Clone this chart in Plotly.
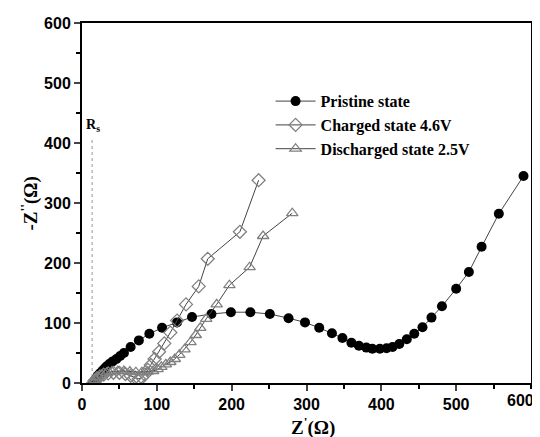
import plotly.graph_objects as go

# Pristine state (filled circles)
pristine_x = [15, 17, 19, 21, 24, 27, 30, 33, 37, 41, 46, 51, 56, 65, 76, 90, 107, 127, 147, 173,
              199, 225, 251, 276, 298, 317, 334, 348, 360, 370, 380, 388, 398, 407, 415, 424, 434,
              444, 455, 467, 481, 500, 517, 534, 557, 590]
pristine_y = [0, 4, 8, 12, 16, 20, 24, 28, 32, 36, 40, 45, 50, 60, 71, 82, 92, 101, 110, 115,
              118, 118, 115, 108, 101, 92, 83, 75, 67, 62, 59, 57, 57, 58, 60, 65, 73,
              82, 93, 109, 128, 157, 185, 227, 282, 345]

# Charged state 4.6V (open diamonds)
charged_x = [15, 17, 20, 24, 29, 35, 42, 50, 58, 65, 71, 76, 80, 84, 88, 92, 97, 103, 110, 118,
             127, 139, 156, 168, 211, 236]
charged_y = [0, 4, 8, 11, 14, 16, 17, 17, 15, 12, 9, 7, 9, 14, 22, 30, 40, 52, 66, 84,
             104, 131, 161, 207, 252, 338]

# Discharged state 2.5V (open triangles)
discharged_x = [15, 18, 22, 27, 33, 40, 48, 56, 64, 72, 80, 88, 95, 101, 106, 112, 118, 124, 130,
                137, 145, 152, 158, 166, 180, 197, 224, 242, 281]
discharged_y = [0, 5, 10, 14, 17, 19, 20, 20, 19, 18, 18, 19, 20, 23, 27, 31, 35, 40, 47,
                56, 68, 80, 92, 107, 131, 163, 193, 245, 283]

series_names = ["Pristine state", "Charged state 4.6V", "Discharged state 2.5V"]
rs_value = 13.5
rs_top = 405

x_ticks = [0, 100, 200, 300, 400, 500, 600]
x_ticklabels = ["0", "100", "200", "300", "400", "500", "600"]
y_ticks = [0, 100, 200, 300, 400, 500, 600]

fig = go.Figure()
fig.add_trace(go.Scatter(
    x=pristine_x, y=pristine_y, mode="lines+markers", name=series_names[0],
    line=dict(color="#444444", width=1),
    marker=dict(symbol="circle", size=10, color="black", line=dict(width=0))))
fig.add_trace(go.Scatter(
    x=charged_x, y=charged_y, mode="lines+markers", name=series_names[1],
    line=dict(color="#444444", width=1),
    marker=dict(symbol="diamond-open", size=10, color="#808080", line=dict(width=1.3))))
fig.add_trace(go.Scatter(
    x=discharged_x, y=discharged_y, mode="lines+markers", name=series_names[2],
    line=dict(color="#444444", width=1),
    marker=dict(symbol="triangle-up-open", size=10, color="#808080", line=dict(width=1.3))))

fig.add_shape(type="line", x0=rs_value, x1=rs_value, y0=0, y1=rs_top,
              line=dict(color="#999999", width=1, dash="dot"), layer="below")
fig.add_annotation(x=rs_value, y=rs_top + 6, text="R<sub>s</sub>", showarrow=False,
                   xanchor="center", yanchor="bottom", xshift=1,
                   font=dict(family="Liberation Serif", size=14, color="black", weight="bold"))

tickfont = dict(family="Liberation Sans", size=16, color="black", weight="bold")
# the last x label sits at the page edge, where plotly would hide a tick label,
# so it is drawn as an annotation at the same data position, kept inside the page
fig.update_xaxes(range=[0, 600], tickvals=x_ticks[:-1], ticktext=x_ticklabels[:-1],
                 ticks="outside", ticklen=6, tickwidth=2,
                 showline=True, linewidth=2, linecolor="black", mirror=True,
                 showgrid=False, zeroline=False, tickfont=tickfont,
                 minor=dict(dtick=50, ticks="outside", ticklen=4, tickwidth=2, tickcolor="black"))
fig.add_annotation(x=x_ticks[-1], xref="x", y=0, yref="paper", text=x_ticklabels[-1],
                   showarrow=False, xanchor="right", yanchor="top", yshift=-7, xshift=5,
                   font=tickfont)
fig.update_yaxes(range=[0, 600], tickvals=y_ticks, ticks="outside", ticklen=6, tickwidth=2,
                 showline=True, linewidth=2, linecolor="black", mirror=True,
                 showgrid=False, zeroline=False, tickfont=tickfont,
                 minor=dict(dtick=50, ticks="outside", ticklen=4, tickwidth=2, tickcolor="black"))

titlefont = dict(family="Liberation Serif", size=19, color="black", weight="bold")
fig.add_annotation(xref="paper", yref="paper", x=0.514, y=-0.122, text="Z<sup>'</sup>(Ω)",
                   showarrow=False, xanchor="center", yanchor="middle", font=titlefont)
fig.add_annotation(xref="paper", yref="paper", x=-0.117, y=0.5, text="-Z<sup>''</sup>(Ω)",
                   showarrow=False, xanchor="center", yanchor="middle", textangle=-90,
                   font=titlefont)

# page body has an 8px margin: shrink the figure so the plot area lands where the reference has it
fig.update_layout(
    width=532, height=429,
    margin=dict(l=74, r=7, t=15, b=54),
    plot_bgcolor="white", paper_bgcolor="white",
    legend=dict(x=0.42, y=0.83, xanchor="left", yanchor="top", bgcolor="rgba(0,0,0,0)",
                font=dict(family="Liberation Serif", size=16, color="black", weight="bold"),
                tracegroupgap=0, itemwidth=40),
)

fig.write_html("out.html")
